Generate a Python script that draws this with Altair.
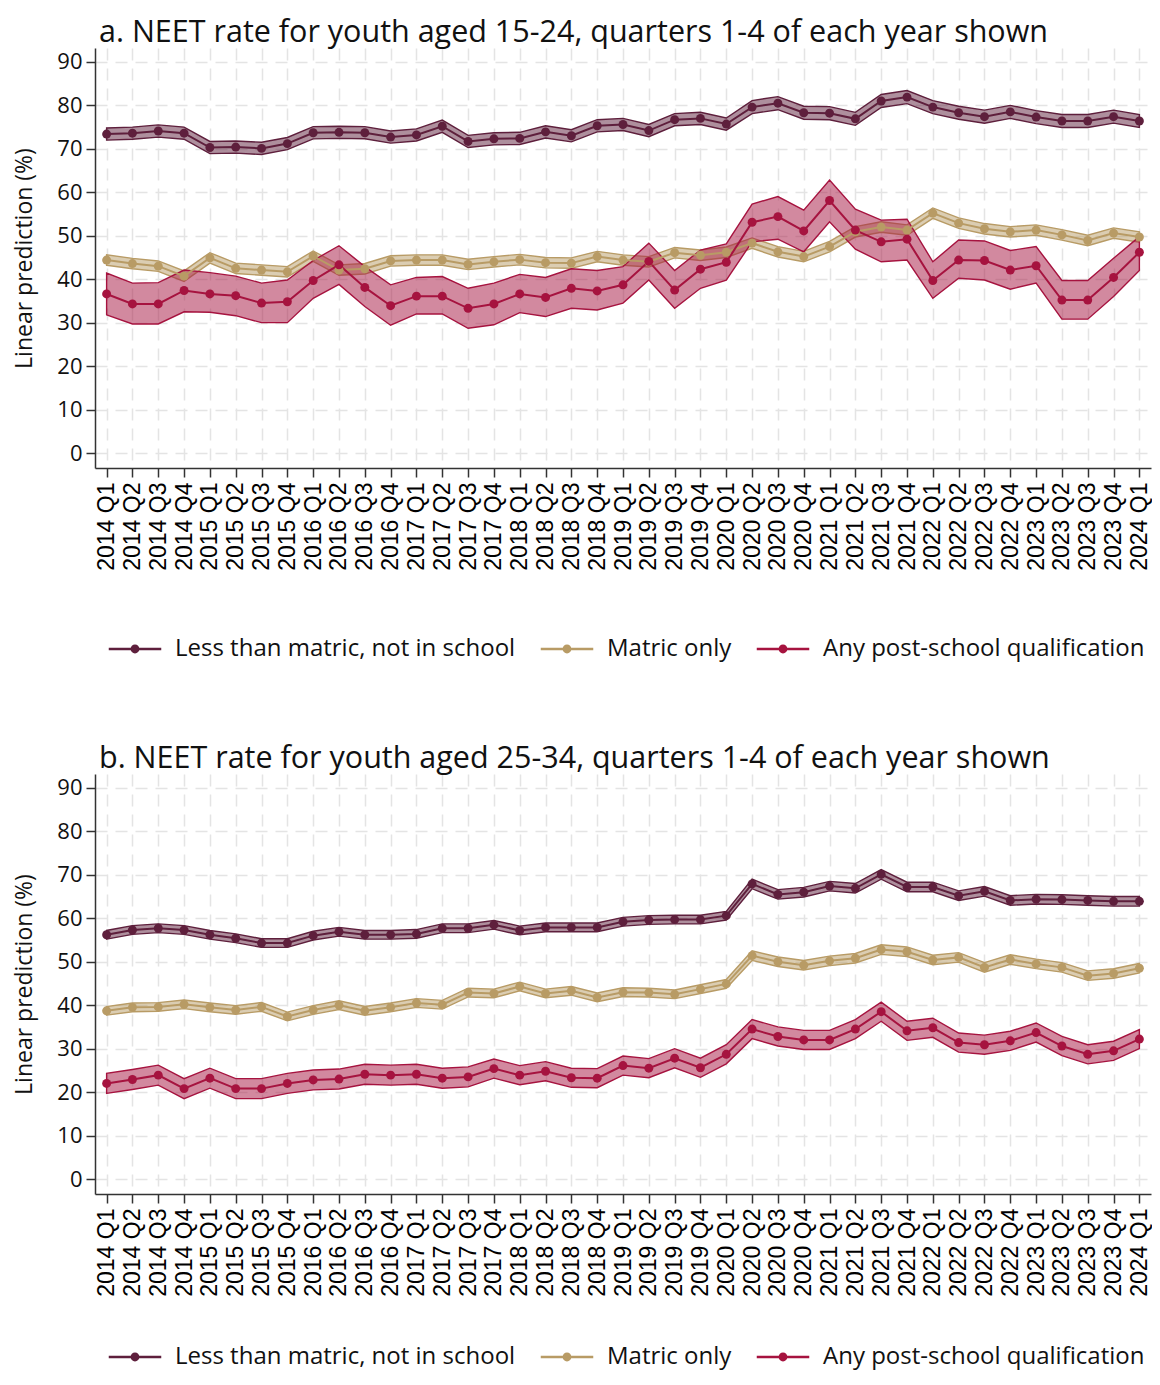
import altair as alt
import pandas as pd

quarters = [f"{y} Q{q}" for y in range(2014, 2024) for q in range(1, 5)] + ["2024 Q1"]
series_names = ["Less than matric, not in school", "Matric only", "Any post-school qualification"]
colors = ["#5E1F3C", "#B89B65", "#A6133F"]

# ---- Panel a: youth aged 15-24 ----
a_less = [73.4, 73.6, 74.1, 73.6, 70.3, 70.4, 70.1, 71.2, 73.7, 73.8, 73.7, 72.7, 73.2, 75.2,
          71.7, 72.3, 72.4, 73.9, 73.0, 75.3, 75.6, 74.2, 76.7, 77.0, 75.7, 79.6, 80.5, 78.3,
          78.2, 76.9, 81.0, 81.9, 79.6, 78.3, 77.4, 78.5, 77.3, 76.4, 76.4, 77.4, 76.4]
a_less_half = [1.4, 1.4, 1.4, 1.4, 1.4, 1.4, 1.4, 1.4, 1.4, 1.4, 1.4, 1.4, 1.4, 1.4,
               1.4, 1.4, 1.4, 1.4, 1.4, 1.4, 1.4, 1.4, 1.4, 1.4, 1.4, 1.5, 1.5, 1.5,
               1.5, 1.5, 1.5, 1.5, 1.5, 1.5, 1.5, 1.5, 1.5, 1.5, 1.5, 1.5, 1.5]
a_matric = [44.4, 43.6, 43.0, 40.7, 44.9, 42.5, 42.1, 41.7, 45.3, 42.1, 42.4, 44.2, 44.4, 44.4,
            43.4, 44.0, 44.5, 43.8, 43.7, 45.2, 44.4, 44.0, 46.1, 45.5, 46.2, 48.3, 46.3, 45.2,
            47.5, 50.9, 52.0, 51.3, 55.2, 52.9, 51.6, 50.9, 51.3, 50.2, 48.9, 50.6, 49.7]
a_matric_half = [1.2, 1.2, 1.2, 1.2, 1.2, 1.2, 1.2, 1.2, 1.2, 1.2, 1.2, 1.2, 1.2, 1.2,
                 1.2, 1.2, 1.2, 1.2, 1.2, 1.2, 1.2, 1.2, 1.2, 1.2, 1.2, 1.2, 1.2, 1.2,
                 1.2, 1.2, 1.2, 1.2, 1.2, 1.2, 1.2, 1.2, 1.2, 1.2, 1.2, 1.2, 1.2]
a_post = [36.6, 34.3, 34.3, 37.4, 36.6, 36.2, 34.5, 34.8, 39.7, 43.3, 38.1, 33.9, 36.1, 36.1,
          33.3, 34.3, 36.6, 35.8, 37.9, 37.3, 38.7, 44.1, 37.5, 42.3, 43.9, 53.1, 54.4, 51.1,
          58.1, 51.3, 48.6, 49.2, 39.7, 44.4, 44.3, 42.1, 43.1, 35.2, 35.2, 40.4, 46.2]
a_post_hi = [41.4, 39.1, 39.2, 42.1, 41.5, 40.7, 39.1, 39.8, 44.3, 47.7, 42.9, 38.7, 40.4, 40.6,
             37.9, 39.1, 41.1, 40.4, 42.4, 42.0, 42.9, 48.3, 42.0, 46.7, 48.1, 57.3, 59.0, 55.9,
             62.8, 56.1, 53.6, 53.8, 44.0, 49.0, 48.8, 46.6, 47.5, 39.7, 39.7, 44.8, 49.8]
a_post_lo = [31.8, 29.7, 29.7, 32.5, 32.4, 31.6, 30.0, 30.0, 35.6, 38.8, 33.7, 29.4, 32.0, 32.0,
             28.7, 29.5, 32.3, 31.4, 33.3, 32.9, 34.5, 39.8, 33.3, 37.9, 39.8, 48.6, 49.2, 46.3,
             53.2, 46.9, 44.0, 44.4, 35.6, 40.2, 39.8, 37.7, 39.1, 30.8, 30.8, 36.0, 42.0]

# ---- Panel b: youth aged 25-34 ----
b_less = [56.2, 57.3, 57.7, 57.3, 56.2, 55.4, 54.3, 54.3, 56.0, 56.9, 56.2, 56.2, 56.4, 57.7,
          57.7, 58.5, 57.2, 57.9, 57.9, 57.9, 59.2, 59.6, 59.7, 59.7, 60.6, 67.9, 65.5, 66.0,
          67.4, 66.9, 70.1, 67.2, 67.2, 65.2, 66.2, 64.1, 64.4, 64.3, 64.1, 63.9, 63.9]
b_less_half = [1.0, 1.0, 1.0, 1.0, 1.0, 1.0, 1.0, 1.0, 1.0, 1.0, 1.0, 1.0, 1.0, 1.0,
               1.0, 1.0, 1.0, 1.0, 1.0, 1.0, 1.0, 1.0, 1.0, 1.0, 1.0, 1.1, 1.1, 1.1,
               1.1, 1.1, 1.1, 1.1, 1.1, 1.1, 1.1, 1.1, 1.1, 1.1, 1.1, 1.1, 1.1]
b_matric = [38.7, 39.5, 39.6, 40.2, 39.5, 38.9, 39.6, 37.4, 38.9, 40.0, 38.7, 39.5, 40.5, 40.1,
            42.9, 42.7, 44.3, 42.7, 43.3, 41.8, 43.0, 42.9, 42.5, 43.7, 44.9, 51.4, 50.0, 49.2,
            50.2, 50.8, 52.8, 52.3, 50.4, 51.0, 48.7, 50.5, 49.5, 48.7, 46.8, 47.3, 48.5]
b_matric_half = [1.0, 1.0, 1.0, 1.0, 1.0, 1.0, 1.0, 1.0, 1.0, 1.0, 1.0, 1.0, 1.0, 1.0,
                 1.0, 1.0, 1.0, 1.0, 1.0, 1.0, 1.0, 1.0, 1.0, 1.0, 1.0, 1.1, 1.1, 1.1,
                 1.1, 1.1, 1.1, 1.1, 1.1, 1.1, 1.1, 1.1, 1.1, 1.1, 1.1, 1.1, 1.1]
b_post = [22.0, 22.9, 23.9, 20.8, 23.2, 20.8, 20.8, 22.0, 22.8, 23.0, 24.1, 23.9, 24.1, 23.2,
          23.5, 25.4, 23.9, 24.8, 23.3, 23.2, 26.1, 25.5, 27.8, 25.6, 28.7, 34.5, 32.8, 32.0,
          32.0, 34.5, 38.5, 34.1, 34.8, 31.4, 30.9, 31.8, 33.7, 30.6, 28.7, 29.5, 32.2]
b_post_half = [2.3, 2.3, 2.3, 2.3, 2.3, 2.3, 2.3, 2.3, 2.3, 2.3, 2.3, 2.3, 2.3, 2.3,
               2.3, 2.2, 2.2, 2.2, 2.2, 2.2, 2.2, 2.2, 2.2, 2.2, 2.2, 2.2, 2.2, 2.2,
               2.2, 2.2, 2.2, 2.2, 2.2, 2.2, 2.2, 2.2, 2.2, 2.2, 2.2, 2.2, 2.2]


def build_frame(entries):
    rows = []
    for name, center, lo, hi in entries:
        for q, c, l, h in zip(quarters, center, lo, hi):
            rows.append({"q": q, "series": name, "v": c, "lo": l, "hi": h})
    return pd.DataFrame(rows)


def sym(center, half):
    return [round(c - h, 2) for c, h in zip(center, half)], [round(c + h, 2) for c, h in zip(center, half)]


a_less_lo, a_less_hi = sym(a_less, a_less_half)
a_matric_lo, a_matric_hi = sym(a_matric, a_matric_half)
b_less_lo, b_less_hi = sym(b_less, b_less_half)
b_matric_lo, b_matric_hi = sym(b_matric, b_matric_half)
b_post_lo, b_post_hi = sym(b_post, b_post_half)

df_a = build_frame([
    (series_names[0], a_less, a_less_lo, a_less_hi),
    (series_names[1], a_matric, a_matric_lo, a_matric_hi),
    (series_names[2], a_post, a_post_lo, a_post_hi),
])
df_b = build_frame([
    (series_names[0], b_less, b_less_lo, b_less_hi),
    (series_names[1], b_matric, b_matric_lo, b_matric_hi),
    (series_names[2], b_post, b_post_lo, b_post_hi),
])

MAIN_FONT = "Open Sans"
GRID = dict(grid=True, gridColor="#E4E4E4", gridDash=[12, 8], gridWidth=1.5)

x_axis = alt.Axis(title=None, labelAngle=270, labelFont="Liberation Sans", labelFontSize=23,
                  labelColor="#000000", labelPadding=5, tickSize=9, tickColor="#333333",
                  tickWidth=1.5, domainColor="#333333", domainWidth=1.5, labelOverlap=False,
                  **GRID)
y_axis = alt.Axis(title="Linear prediction (%)", values=list(range(0, 91, 10)),
                  titleFont=MAIN_FONT, titleFontSize=23, titleFontWeight="normal",
                  titleColor="#111111", titlePadding=20,
                  labelFont=MAIN_FONT, labelFontSize=22, labelColor="#111111", labelPadding=4,
                  tickSize=9, tickColor="#333333", tickWidth=1.5,
                  domainColor="#333333", domainWidth=1.5, **GRID)

x_scale = alt.Scale(type="point", padding=0.45)
y_scale = alt.Scale(domain=[-3.45, 93.2], nice=False, zero=False)

legend_symbol = ("M-2.5,-0.11H-0.3V0.11H-2.5Z M0.3,-0.11H2.5V0.11H0.3Z "
                 "M-0.42,0A0.42,0.42 0 1,1 0.42,0A0.42,0.42 0 1,1 -0.42,0Z")


def panel(df, title, legend_y):
    base = alt.Chart(df)
    X = alt.X("q:N", sort=quarters, scale=x_scale, axis=x_axis)
    layers = []
    for name, col in zip(series_names, colors):
        layers.append(
            base.transform_filter(alt.FieldEqualPredicate(field="series", equal=name))
            .mark_area(fill=col, fillOpacity=0.5, stroke=col, strokeWidth=1.4)
            .encode(x=X, y=alt.Y("lo:Q", scale=y_scale, axis=y_axis), y2="hi:Q")
        )
    for name, col in zip(series_names, colors):
        layers.append(
            base.transform_filter(alt.FieldEqualPredicate(field="series", equal=name))
            .mark_line(color=col, strokeWidth=2)
            .encode(x=X, y=alt.Y("v:Q", scale=y_scale, axis=y_axis))
        )
    points = base.mark_point(filled=True, size=80, opacity=1).encode(
        x=X,
        y=alt.Y("v:Q", scale=y_scale, axis=y_axis),
        fill=alt.Fill("series:N", scale=alt.Scale(domain=series_names, range=colors),
                      legend=alt.Legend(title=None, orient="none", legendX=28, legendY=legend_y,
                                        direction="horizontal", symbolType=legend_symbol,
                                        symbolSize=441, symbolStrokeWidth=0,
                                        labelFont=MAIN_FONT, labelFontSize=24,
                                        labelColor="#111111", labelOffset=28,
                                        labelLimit=1000, columnPadding=24)),
    )
    layers.append(points)
    return alt.layer(*layers).properties(
        width=1056, height=420,
        title=alt.Title(title, anchor="start", frame="group", font=MAIN_FONT, fontSize=30.5,
                        fontWeight="normal", color="#111111", offset=0, dx=4),
    )


chart = alt.vconcat(
    panel(df_a, "a. NEET rate for youth aged 15-24, quarters 1-4 of each year shown", 589),
    panel(df_b, "b. NEET rate for youth aged 25-34, quarters 1-4 of each year shown", 571),
    spacing=82,
).resolve_scale(fill="independent").properties(
    padding={"left": 5, "top": 9, "right": 0, "bottom": 6}
).configure_view(stroke=None)

chart.save("out.html", embed_options={"renderer": "svg", "actions": False})
